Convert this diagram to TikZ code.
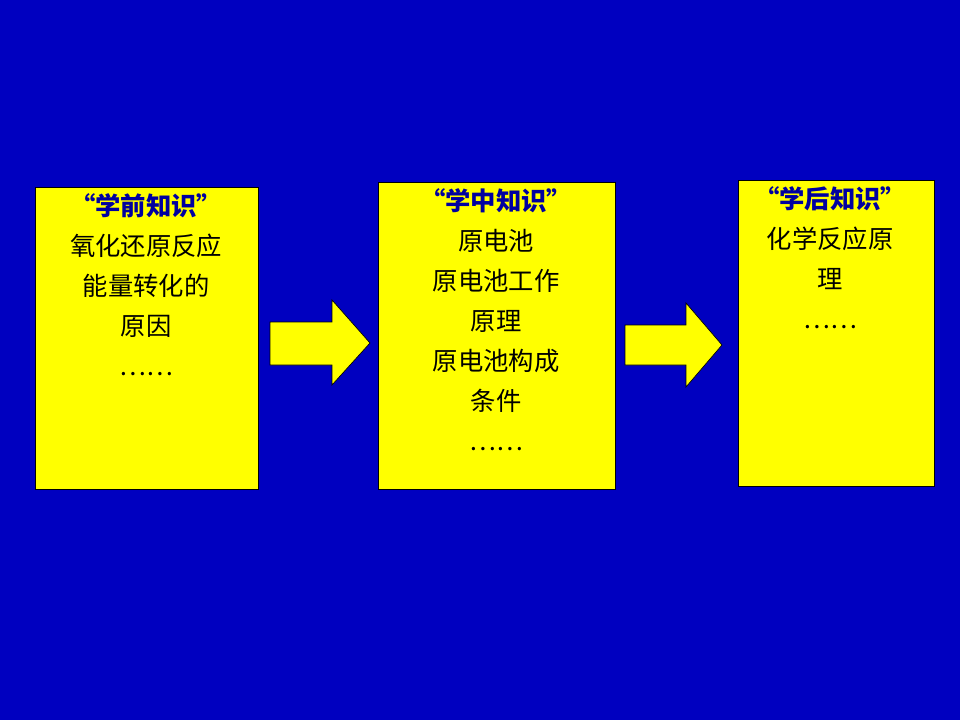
\documentclass[tikz,border=0pt]{standalone}
\usepackage{fontspec}
\newfontfamily\cjk{Noto Sans CJK SC}
\definecolor{bgblue}{RGB}{0,0,192}
\definecolor{boxyellow}{RGB}{255,255,0}
\definecolor{titleblue}{RGB}{0,0,160}
\tikzset{every picture/.style={line width=0.75pt}}
\tikzset{
  card/.style={draw=black,fill=boxyellow,line width=0.6pt},
  cardtext/.style={anchor=north,align=center,inner sep=0.75pt,font=\cjk\fontsize{19}{30}\selectfont},
  fatarrow/.style={draw=black,fill=boxyellow,line width=0.5pt}
}
\begin{document}
\begin{tikzpicture}[x=0.75pt,y=0.75pt,yscale=-1,xscale=1]
%background
\fill[bgblue] (0,0) rectangle (960,720);
\useasboundingbox (0,0) rectangle (960,720);

%Shape: Rectangle [id:before]
\draw[card] (35,187) rectangle (258,489);
%Shape: Rectangle [id:during]
\draw[card] (378,182) rectangle (615,489);
%Shape: Rectangle [id:after]
\draw[card] (738,180) rectangle (934,486);

%Shape: Right Arrow [id:arrowA]
\draw[fatarrow] (270,322) -- (332,322) -- (332,300) -- (370,343) -- (332,385) -- (332,365) -- (270,365) -- cycle;
%Shape: Right Arrow [id:arrowB]
\draw[fatarrow] (625,325) -- (686,325) -- (686,303) -- (722,345) -- (686,387) -- (686,365) -- (625,365) -- cycle;

% Text Node
\node[cardtext] (before) at (146,192) {{\bfseries\color{titleblue}“学前知识”}\\氧化还原反应\\能量转化的\\原因\\……};
% Text Node
\node[cardtext] (during) at (496,187) {{\bfseries\color{titleblue}“学中知识”}\\原电池\\原电池工作\\原理\\原电池构成\\条件\\……};
% Text Node
\node[cardtext] (after) at (830,185) {{\bfseries\color{titleblue}“学后知识”}\\化学反应原\\理\\……};
\end{tikzpicture}
\end{document}
